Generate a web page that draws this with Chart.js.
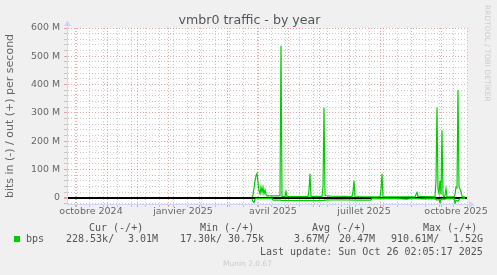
<!DOCTYPE html>
<html>
<head>
<meta charset="utf-8">
<title>vmbr0 traffic - by year</title>
<script src="https://cdn.jsdelivr.net/npm/chart.js@4.4.1/dist/chart.umd.min.js"></script>
<style>
  body { margin: 0; background: #f0f0f0; }
  #wrap { position: relative; width: 497px; height: 275px; overflow: hidden; }
  #chart { position: absolute; left: 0; top: 0; }
  .txt { position: absolute; white-space: pre; line-height: 10px; font-family: "DejaVu Sans Mono", monospace; font-size: 10px; color: #555; }
  #title { position: absolute; left: 1px; width: 497px; top: 13px; text-align: center; font-family: "DejaVu Sans"; font-size: 12.6px; line-height: 13px; color: #555; }
  #mark { position: absolute; left: 483px; top: 5px; writing-mode: vertical-rl; font-family: "DejaVu Sans"; font-size: 7.5px; line-height: 9px; color: #ccc; }
  #munin { position: absolute; left: 223px; top: 259px; font-family: "DejaVu Sans"; font-size: 7.5px; line-height: 9px; color: #ccc; }
  #swatch { position: absolute; left: 14px; top: 236px; width: 6px; height: 6px; background: #00cc00; }
</style>
</head>
<body>
<div id="wrap">
  <canvas id="chart" width="497" height="275"></canvas>
  <div id="title">vmbr0 traffic - by year</div>
  <div id="mark">RRDTOOL / TOBI OETIKER</div>

  <div class="txt" style="left:89px;top:223px">Cur (-/+)</div>
  <div class="txt" style="left:200px;top:223px">Min (-/+)</div>
  <div class="txt" style="left:312px;top:223px">Avg (-/+)</div>
  <div class="txt" style="left:423px;top:223px">Max (-/+)</div>

  <div id="swatch"></div>
  <div class="txt" style="left:26px;top:234px">bps</div>
  <div class="txt" style="left:66px;top:234px">228.53k/</div>
  <div class="txt" style="left:128px;top:234px">3.01M</div>
  <div class="txt" style="left:180px;top:234px">17.30k/</div>
  <div class="txt" style="left:228px;top:234px">30.75k</div>
  <div class="txt" style="left:294px;top:234px">3.67M/</div>
  <div class="txt" style="left:339px;top:234px">20.47M</div>
  <div class="txt" style="left:391px;top:234px">910.61M/</div>
  <div class="txt" style="left:453px;top:234px">1.52G</div>

  <div class="txt" style="left:260px;top:247px">Last update: Sun Oct 26 02:05:17 2025</div>
  <div id="munin">Munin 2.0.67</div>
</div>

<script>
// x = days since 22 Sep 2024, y = Mbit/s (in is drawn below zero)
const outDays = [185,186,187,188,189,190,191,192,193,194,195,196,197,198,199,200,212,213,214,215,218,219,220,241,242,243,244,255,256,257,258,263,278,285,286,287,288,305,313,314,315,316,348,349,350,351,368,369,370,371,372,373,374,375,376,377,378,379,380,387,388,389,390,391,392,393,394,395,396,398];
const outMbps = [3,10,35,60,78,86,55,25,14,38,18,37,14,28,12,7,7,8,537,5,5,22,4,4,25,85,5,5,40,318,8,6,5,4,22,60,4,3,3,25,85,3,3,12,19,5,3,60,319,30,15,60,12,238,10,3,8,32,3,4,12,37,35,380,40,30,22,6,2,3];

const inDays = [185,186,187,188,189,205,206,213,214,230,240,250,256,258,270,290,304,305,330,340,345,355,368,370,372,373,374,378,380,387,388,389,391,393,396,398];
const inMbps = [-3,-14,-17,-6,-2,-2,-8,-8,-9,-10,-9,-10,-9,-8,-7,-8,-8,-2,-3,-5,-2,-4,-3,-8,-6,-17,-4,-5,-3,-2,-20,-8,-12,-3,-2,-2];

// axis labels (mid-month) and month boundaries
const xLabels = ['octobre 2024', 'janvier 2025', 'avril 2025', 'juillet 2025', 'octobre 2025'];
const xLabelDays = [24, 116, 206, 297, 389];
const monthDays = [9, 40, 70, 101, 132, 160, 191, 221, 252, 282, 313, 344, 374];
const yLabelValues = [0, 100, 200, 300, 400, 500, 600];

const GREEN = '#00cc00';
const MAJOR = 'rgba(222,79,79,0.5)';
const MINOR = 'rgba(143,143,143,0.45)';
const AXIS = '#cfd6f8';
const NONE = 'rgba(0,0,0,0)';

// two-weekly minor grid, like rrdtool does for a 400 day graph
const minorDays = [];
for (let d = 8; d <= 400; d += 14) if (!monthDays.includes(d)) minorDays.push(d);

const xTicks = [...new Set([...monthDays, ...minorDays, ...xLabelDays])].sort((a, b) => a - b);
const yTicks = [];
for (let v = -20; v <= 600; v += 20) yTicks.push(v);

const xKind = v => monthDays.includes(v) ? 'major' : (xLabelDays.includes(v) ? 'label' : 'minor');
const xColor = c => { const k = xKind(c.tick.value); return k === 'major' ? MAJOR : k === 'minor' ? MINOR : NONE; };

// white canvas + axis arrows
const rrdFrame = {
  id: 'rrdFrame',
  beforeDraw(chart) {
    const { ctx, chartArea: a } = chart;
    ctx.save();
    ctx.fillStyle = '#fff';
    ctx.fillRect(a.left, a.top, a.right - a.left, a.bottom - a.top);
    ctx.restore();
  },
  afterDraw(chart) {
    const { ctx, chartArea: a } = chart;
    ctx.save();
    ctx.strokeStyle = AXIS;
    ctx.fillStyle = AXIS;
    ctx.lineWidth = 1;
    ctx.beginPath();
    ctx.moveTo(a.right, a.bottom + 0.5);
    ctx.lineTo(a.right + 3, a.bottom + 0.5);
    ctx.moveTo(a.left + 0.5, a.top);
    ctx.lineTo(a.left + 0.5, a.top - 3);
    ctx.stroke();
    ctx.beginPath();
    ctx.moveTo(a.right + 2, a.bottom - 3);
    ctx.lineTo(a.right + 8, a.bottom + 0.5);
    ctx.lineTo(a.right + 2, a.bottom + 4);
    ctx.closePath();
    ctx.fill();
    ctx.beginPath();
    ctx.moveTo(a.left - 3, a.top - 2);
    ctx.lineTo(a.left + 0.5, a.top - 8);
    ctx.lineTo(a.left + 4, a.top - 2);
    ctx.closePath();
    ctx.fill();
    ctx.restore();
  }
};

new Chart(document.getElementById('chart'), {
  type: 'line',
  data: {
    datasets: [
      {
        label: 'out',
        data: outDays.map((d, i) => ({ x: d, y: outMbps[i] })),
        borderColor: GREEN,
        borderWidth: 1.2,
        pointRadius: 0,
        tension: 0
      },
      {
        label: 'in',
        data: inDays.map((d, i) => ({ x: d, y: inMbps[i] })),
        borderColor: GREEN,
        borderWidth: 1.2,
        pointRadius: 0,
        tension: 0
      }
    ]
  },
  options: {
    responsive: false,
    animation: false,
    layout: { padding: { left: 0, top: 28, right: 30, bottom: 51 } },
    plugins: {
      legend: { display: false },
      tooltip: { enabled: false },
      title: { display: false }
    },
    scales: {
      x: {
        type: 'linear',
        min: 0,
        max: 400,
        afterFit: s => { s.height = 20; },
        afterBuildTicks: s => { s.ticks = xTicks.map(v => ({ value: v })); },
        ticks: {
          autoSkip: false,
          maxRotation: 0,
          padding: 0,
          color: '#666',
          font: { family: 'DejaVu Sans', size: 9.5, lineHeight: 1 },
          callback: v => {
            const i = xLabelDays.indexOf(v);
            return i >= 0 ? xLabels[i] : '';
          }
        },
        grid: {
          color: xColor,
          tickColor: xColor,
          lineWidth: 1,
          tickLength: 3
        },
        border: { display: true, color: AXIS, width: 1, dash: [1, 2] }
      },
      y: {
        type: 'linear',
        min: -22,
        max: 600,
        afterFit: s => { s.width = 67; },
        afterBuildTicks: s => { s.ticks = yTicks.map(v => ({ value: v })); },
        ticks: {
          autoSkip: false,
          padding: 4,
          color: '#666',
          font: { family: 'DejaVu Sans', size: 9.4 },
          callback: v => yLabelValues.includes(v) ? (v === 0 ? '0' : v + ' M') : ''
        },
        grid: {
          color: c => c.tick.value === 0 ? '#000' : (c.tick.value % 100 === 0 ? MAJOR : MINOR),
          tickColor: c => c.tick.value % 100 === 0 ? MAJOR : MINOR,
          lineWidth: c => c.tick.value === 0 ? 2 : 1,
          tickLength: 3
        },
        border: { display: true, color: AXIS, width: 1, dash: c => c.tick && c.tick.value === 0 ? [] : [1, 2] },
        title: {
          display: true,
          text: 'bits in (-) / out (+) per second',
          color: '#666',
          padding: { top: 4, bottom: 0 },
          font: { family: 'DejaVu Sans', size: 11 }
        }
      }
    }
  },
  plugins: [rrdFrame]
});
</script>
</body>
</html>
